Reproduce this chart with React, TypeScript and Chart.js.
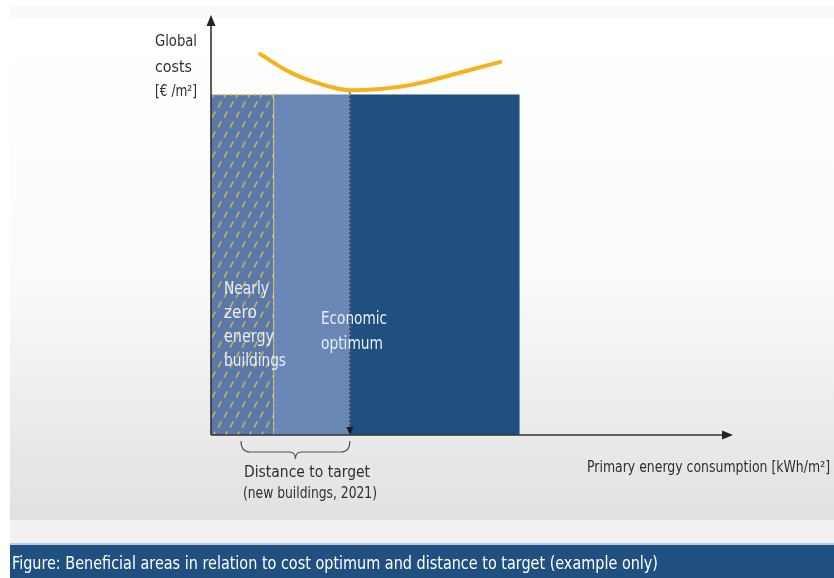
import { useEffect, useRef } from "react";
import { Chart, registerables } from "chart.js";

Chart.register(...registerables);

// ---- data ----
const zoneEdges = [0, 12, 26.6, 59];
const zoneTop = 81;
const zoneNames = ["Nearly zero energy buildings", "Distance to target", "Beyond optimum"];
const costX = [9.4, 15.1, 20.9, 26.6, 32.4, 38.1, 43.9, 49.6, 55.4];
const costY = [90.7, 86.4, 83.6, 82.1, 82.4, 83.3, 85.0, 86.9, 88.8];
const optimumX = 26.6;
const optimumY = 82.1;
const braceRange = [5.75, 26.6];

const yAxisLabel = ["Global", "costs", "[€ /m²]"];
const xAxisLabel = "Primary energy consumption [kWh/m²]";
const nzebLabel = ["Nearly", "zero", "energy", "buildings"];
const optimumLabel = ["Economic", "optimum"];
const distanceLabel = ["Distance to target", "(new buildings, 2021)"];
const caption = "Figure: Beneficial areas in relation to cost optimum and distance to target (example only)";

const FONT = '"Liberation Sans Narrow", "DejaVu Sans Condensed", "Open Sans", sans-serif';
const DARK_TEXT = "#2e2e2e";

function makeHatch(): CanvasPattern | string {
  const c = document.createElement("canvas");
  c.width = 12;
  c.height = 20;
  const g = c.getContext("2d");
  if (!g) return "#5877a8";
  g.fillStyle = "#5a78a9";
  g.fillRect(0, 0, 12, 20);
  g.strokeStyle = "#d2b447";
  g.lineWidth = 1.6;
  g.lineCap = "round";
  g.beginPath();
  g.moveTo(2.5, 7);
  g.lineTo(5, 2);
  g.moveTo(8.5, 17);
  g.lineTo(11, 12);
  g.stroke();
  const ctx = document.createElement("canvas").getContext("2d");
  const p = ctx ? ctx.createPattern(c, "repeat") : null;
  return p || "#5877a8";
}

function drawFit(ctx: CanvasRenderingContext2D, text: string, x: number, y: number, w: number) {
  const m = ctx.measureText(text).width;
  const s = m > 0 ? w / m : 1;
  ctx.save();
  ctx.translate(x, y);
  ctx.scale(s, 1);
  ctx.fillText(text, 0, 0);
  ctx.restore();
}

export default function App() {
  const ref = useRef<HTMLCanvasElement | null>(null);

  useEffect(() => {
    document.body.style.margin = "0";
    const canvas = ref.current;
    if (!canvas) return;
    const hatch = makeHatch();

    const rect = (i: number) => [
      { x: zoneEdges[i], y: zoneTop },
      { x: zoneEdges[i + 1], y: zoneTop },
      { x: zoneEdges[i + 1], y: 0 },
    ];

    const decor = {
      id: "decor",
      beforeDraw(chart: any) {
        const ctx = chart.ctx as CanvasRenderingContext2D;
        const W = chart.width;
        ctx.save();
        ctx.fillStyle = "#ffffff";
        ctx.fillRect(0, 0, W, chart.height);
        ctx.fillStyle = "#f9f9f9";
        ctx.fillRect(10, 6, W - 10, 12);
        const g = ctx.createLinearGradient(0, 18, 0, 520);
        g.addColorStop(0, "#ffffff");
        g.addColorStop(0.5, "#fbfbfb");
        g.addColorStop(1, "#e1e1e1");
        ctx.fillStyle = g;
        ctx.fillRect(10, 18, W - 10, 502);
        ctx.fillStyle = "#f1f1f1";
        ctx.fillRect(10, 520, W - 10, 23);
        ctx.fillStyle = "#b9cde2";
        ctx.fillRect(10, 543, W - 10, 2);
        ctx.fillStyle = "#1f5080";
        ctx.fillRect(10, 545, W - 10, chart.height - 545);
        ctx.restore();
      },
      afterDraw(chart: any) {
        const ctx = chart.ctx as CanvasRenderingContext2D;
        const xs = chart.scales.x;
        const ys = chart.scales.y;
        const area = chart.chartArea;
        const x0 = xs.getPixelForValue(0);
        const y0 = ys.getPixelForValue(0);
        ctx.save();

        // optimum dotted line with arrow
        const ox = xs.getPixelForValue(optimumX);
        ctx.strokeStyle = "#2a2a2a";
        ctx.lineWidth = 1.2;
        ctx.setLineDash([2, 2]);
        ctx.beginPath();
        ctx.moveTo(ox, ys.getPixelForValue(optimumY) + 2);
        ctx.lineTo(ox, y0 - 7);
        ctx.stroke();
        ctx.setLineDash([]);
        ctx.fillStyle = "#1a1a1a";
        ctx.beginPath();
        ctx.moveTo(ox - 3.5, y0 - 8);
        ctx.lineTo(ox + 3.5, y0 - 8);
        ctx.lineTo(ox, y0);
        ctx.closePath();
        ctx.fill();

        // axes
        ctx.strokeStyle = "#333";
        ctx.fillStyle = "#222";
        ctx.lineWidth = 1.6;
        ctx.beginPath();
        ctx.moveTo(x0, y0);
        ctx.lineTo(x0, area.top + 8);
        ctx.moveTo(x0, y0);
        ctx.lineTo(area.right - 8, y0);
        ctx.stroke();
        ctx.beginPath();
        ctx.moveTo(x0, area.top);
        ctx.lineTo(x0 - 4.5, area.top + 11);
        ctx.lineTo(x0 + 4.5, area.top + 11);
        ctx.closePath();
        ctx.fill();
        ctx.beginPath();
        ctx.moveTo(area.right, y0);
        ctx.lineTo(area.right - 11, y0 - 4.5);
        ctx.lineTo(area.right - 11, y0 + 4.5);
        ctx.closePath();
        ctx.fill();

        // brace
        const bx1 = xs.getPixelForValue(braceRange[0]);
        const bx2 = xs.getPixelForValue(braceRange[1]);
        const mid = (bx1 + bx2) / 2;
        const by0 = y0 + 6;
        const by1 = y0 + 17;
        ctx.strokeStyle = "#555";
        ctx.lineWidth = 1.2;
        ctx.beginPath();
        ctx.moveTo(bx1, by0);
        ctx.quadraticCurveTo(bx1, by1, bx1 + 9, by1);
        ctx.lineTo(mid - 6, by1);
        ctx.quadraticCurveTo(mid, by1, mid, by1 + 7);
        ctx.quadraticCurveTo(mid, by1, mid + 6, by1);
        ctx.lineTo(bx2 - 9, by1);
        ctx.quadraticCurveTo(bx2, by1, bx2, by0);
        ctx.stroke();

        // texts
        ctx.textBaseline = "middle";
        ctx.textAlign = "left";
        ctx.fillStyle = DARK_TEXT;
        ctx.font = `16px ${FONT}`;
        const yl = [42, 68, 92];
        const yw = [42, 37, 42];
        yAxisLabel.forEach((t, i) => drawFit(ctx, t, 155, yl[i], yw[i]));
        ctx.font = `16px ${FONT}`;
        drawFit(ctx, distanceLabel[0], 244, 473, 126);
        drawFit(ctx, distanceLabel[1], 243, 494, 134);
        ctx.font = `16px ${FONT}`;
        drawFit(ctx, xAxisLabel, 587, 468, 243);

        ctx.fillStyle = "#e9eef6";
        ctx.font = `17px ${FONT}`;
        const nw = [45, 33, 50, 62];
        nzebLabel.forEach((t, i) => drawFit(ctx, t, x0 + 13, 290 + i * 24, nw[i]));
        const ow = [66, 62];
        optimumLabel.forEach((t, i) => drawFit(ctx, t, 321, 320 + i * 25, ow[i]));

        ctx.fillStyle = "#ffffff";
        ctx.font = `18px ${FONT}`;
        drawFit(ctx, caption, 12, 564, 646);
        ctx.restore();
      },
    };

    const chart = new Chart(canvas, {
      type: "scatter",
      data: {
        datasets: [
          {
            label: "Global costs",
            data: costX.map((x, i) => ({ x, y: costY[i] })),
            showLine: true,
            borderColor: "#f6b21a",
            borderWidth: 4,
            borderCapStyle: "round",
            pointRadius: 0,
            tension: 0.4,
            cubicInterpolationMode: "monotone",
            fill: false,
            order: 0,
          } as any,
          {
            label: zoneNames[0],
            data: rect(0),
            showLine: true,
            borderColor: "#e0bd48",
            borderWidth: 1.4,
            borderDash: [3, 3],
            backgroundColor: hatch as any,
            fill: "origin",
            pointRadius: 0,
            tension: 0,
            order: 1,
          } as any,
          {
            label: zoneNames[1],
            data: rect(1),
            showLine: true,
            borderColor: "#6a87b5",
            borderWidth: 0.5,
            backgroundColor: "#6a87b5",
            fill: "origin",
            pointRadius: 0,
            tension: 0,
            order: 2,
          } as any,
          {
            label: zoneNames[2],
            data: rect(2),
            showLine: true,
            borderColor: "#1f5080",
            borderWidth: 0.5,
            backgroundColor: "#1f5080",
            fill: "origin",
            pointRadius: 0,
            tension: 0,
            order: 3,
          } as any,
        ],
      },
      options: {
        animation: false,
        responsive: false,
        events: [],
        layout: { padding: { left: 211, right: 101, top: 15, bottom: 143 }, autoPadding: false } as any,
        scales: {
          x: { type: "linear", min: 0, max: 100, display: false },
          y: { type: "linear", min: 0, max: 100, display: false },
        },
        plugins: { legend: { display: false }, tooltip: { enabled: false } },
      },
      plugins: [decor],
    });
    return () => chart.destroy();
  }, []);

  return (
    <div style={{ position: "absolute", left: 0, top: 0, width: 834, height: 578 }}>
      <canvas ref={ref} width={834} height={578} style={{ display: "block" }} />
    </div>
  );
}
